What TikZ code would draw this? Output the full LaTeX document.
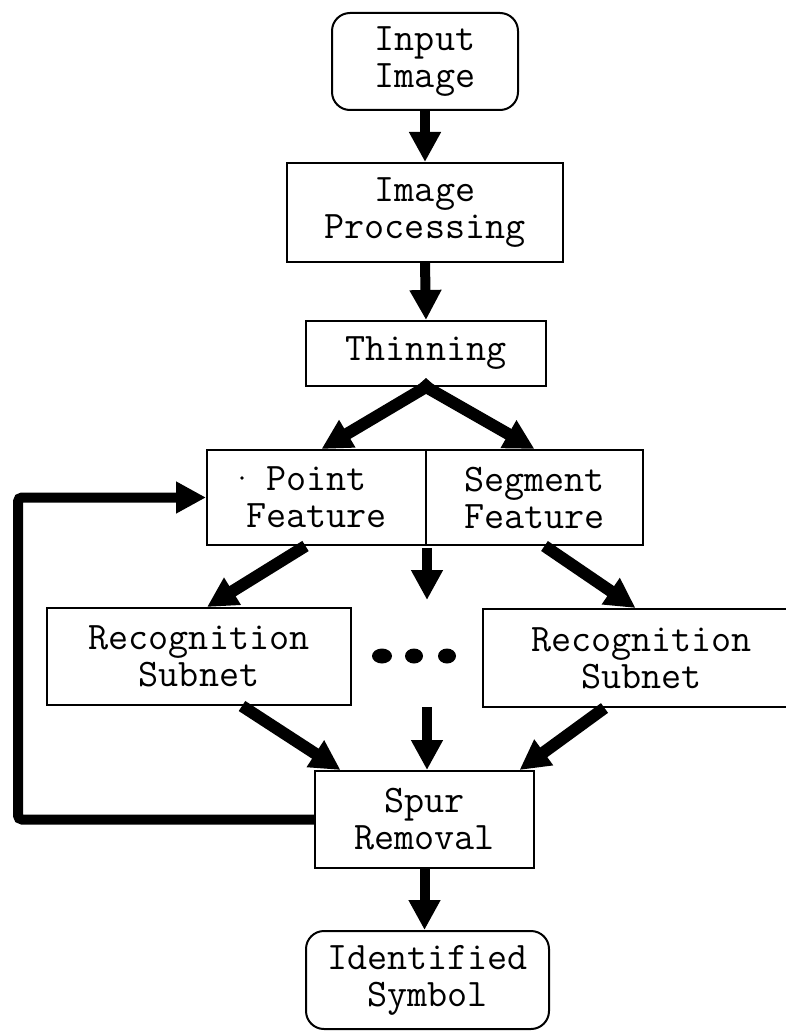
\documentclass[tikz,border=0pt]{standalone}
\usetikzlibrary{arrows.meta}
\newcommand\boxfont{\ttfamily\fontsize{39}{37}\selectfont}
\begin{document}
\begin{tikzpicture}[x=1pt,y=-1pt,
  box/.style={draw, line width=2pt, inner sep=0pt, align=center, font=\boxfont},
  term/.style={box, rounded corners=18pt},
  flow/.style={line width=10pt, -{Triangle[width=30pt,length=30pt]}},
  wide flow/.style={flow, line width=12pt},
]
\clip (0,0) rectangle (786,1032);
\fill[white] (0,0) rectangle (786,1032);

% boxes
\node[term, minimum width=186pt, minimum height=97pt] (inp) at (425,61.5) {Input\\Image};
\node[box, minimum width=276pt, minimum height=99pt] (improc) at (425,212.5) {Image\\Processing};
\node[box, minimum width=240pt, minimum height=65pt] (thin) at (426,353.5) {Thinning};
\node[box, minimum width=219pt, minimum height=95pt] (pf) at (316.5,497.5) {Point\\Feature};
\node[box, minimum width=217pt, minimum height=95pt] (sf) at (534.5,497.5) {Segment\\Feature};
\node[box, minimum width=304pt, minimum height=97pt] (rec1) at (199,656.5) {Recognition\\Subnet};
\node[box, minimum width=317pt, minimum height=98pt] (rec2) at (641.5,658) {Recognition\\Subnet};
\node[box, minimum width=219pt, minimum height=97pt] (spur) at (424.5,819.5) {Spur\\Removal};
\node[term, minimum width=243pt, minimum height=98pt] (ident) at (427.5,980) {Identified\\Symbol};

% small mark beside "Point"
\fill (242,478) circle (1.8pt);

% ellipsis between the two subnets
\fill (382,656) ellipse (10pt and 7.5pt);
\fill (414,656) ellipse (9pt and 7.5pt);
\fill (447,656) ellipse (9pt and 7.5pt);

\coordinate (midtop) at (427,548);
\coordinate (midend) at (427,600);
\coordinate (midlow) at (427,707);

% connectors
\draw[flow] (inp.south) -- (improc.north);
\draw[flow] (improc.south) -- (thin.north);
\fill (thin.south) ++(-9pt,1pt) -- ++(9pt,-1pt) -- ++(9pt,1pt) -- ++(-9pt,8pt) -- cycle;
\draw[wide flow] (thin.south) -- ([xshift=5pt]pf.north);
\draw[wide flow] (thin.south) -- (sf.north);
\draw[wide flow] ([xshift=-11pt]pf.south) -- ([xshift=8pt]rec1.north);
\draw[flow] (midtop) -- (midend);
\draw[wide flow] ([xshift=10pt]sf.south) -- ([xshift=-6pt]rec2.north);
\draw[wide flow] ([xshift=43pt]rec1.south) -- ([xshift=-84pt]spur.north);
\draw[flow] (midlow) -- (spur.north -| midlow);
\draw[wide flow] ([xshift=-37pt]rec2.south) -- ([xshift=95pt]spur.north);
\draw[flow] (spur.south) -- (ident.north -| spur.south);
\draw[flow, rounded corners=4pt] (spur.west) -- (18,819.5) -- (18,497.5) -- (pf.west);
\end{tikzpicture}
\end{document}
